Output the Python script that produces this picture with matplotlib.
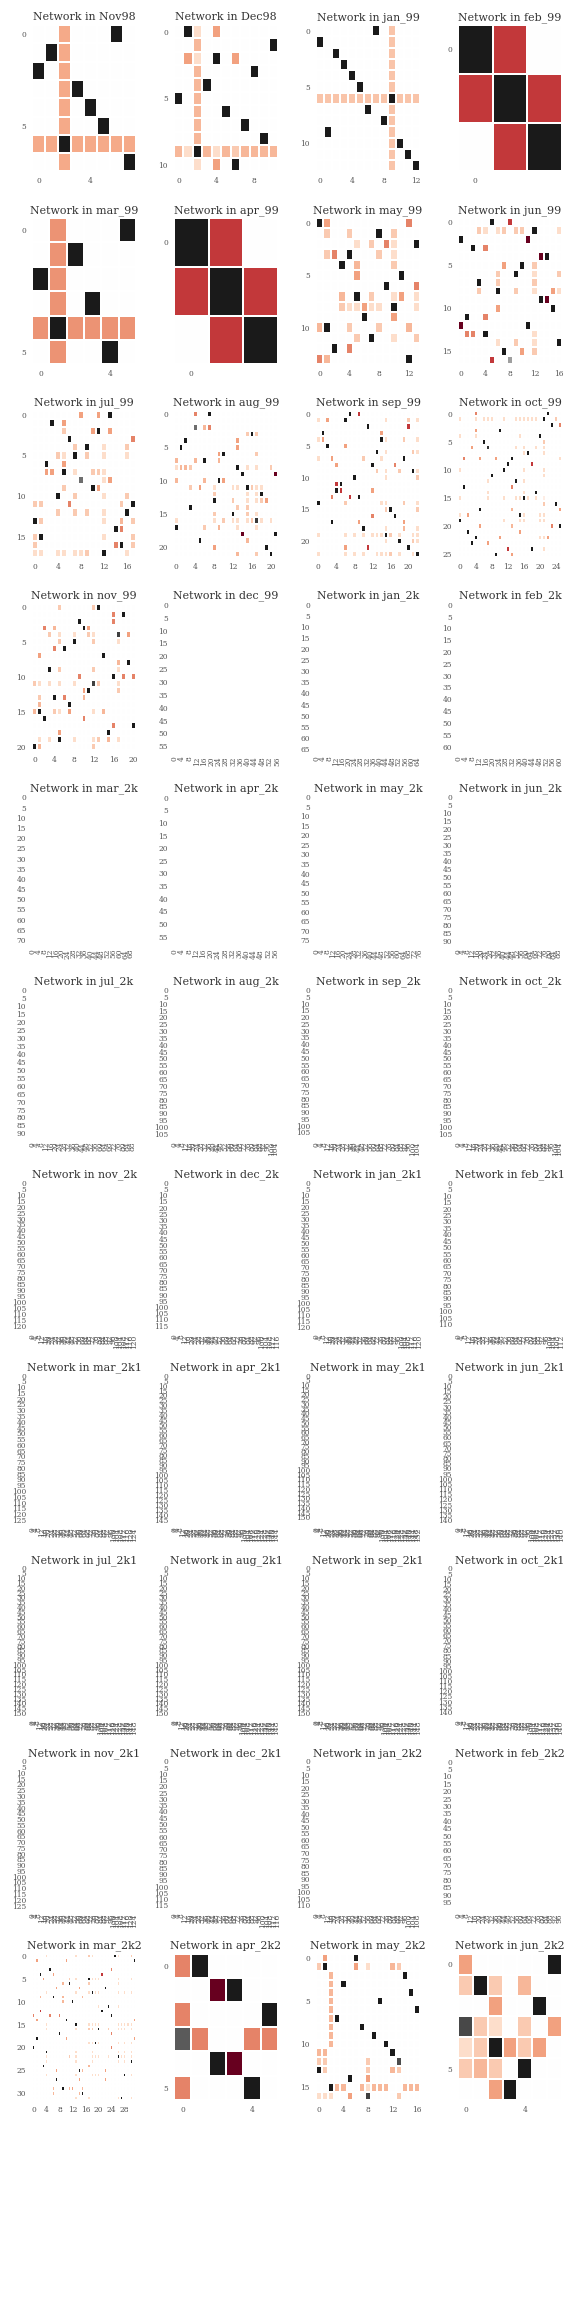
import numpy as np
import matplotlib
matplotlib.use('Agg')
import matplotlib.pyplot as plt

# cell levels seen in the picture
K = 1.0
M = -1.0
R = -0.707
S = -0.5
A = -0.41
P = -0.33
Q = -0.26
L = -0.18
N = -0.378
J = -0.289
H = -0.447

# every row is a list of (column, value)
nov98 = [
    [(2, N), (6, K)], [(1, K), (2, N)], [(0, K), (2, N)], [(2, N), (3, K)],
    [(2, N), (4, K)], [(2, N), (5, K)],
    [(0, N), (1, N), (2, K), (3, N), (4, N), (5, N), (6, N), (7, N)],
    [(2, N), (7, K)],
]
dec98 = [
    [(1, K), (2, L), (4, A)], [(2, P), (10, K)], [(1, A), (2, L), (4, K), (6, A)],
    [(2, P), (8, K)], [(2, P), (3, K)], [(0, K), (2, P)], [(2, P), (5, K)],
    [(2, P), (7, K)], [(2, P), (9, K)],
    [(0, P), (1, L), (2, K), (3, P), (4, L), (5, P), (6, Q), (7, P), (8, P), (9, P), (10, P)],
    [(2, L), (4, A), (6, K)],
]
jan_99 = [
    [(7, K), (9, J)], [(0, K), (9, J)], [(2, K), (9, J)], [(3, K), (9, J)],
    [(4, K), (9, J)], [(5, K), (9, J)],
    [(0, J), (1, J), (2, J), (3, J), (4, J), (5, J), (6, J), (7, J), (8, J), (9, K), (10, J), (11, J), (12, J)],
    [(6, K), (9, J)], [(8, K), (9, J)], [(1, K), (9, J)], [(9, J), (10, K)],
    [(9, J), (11, K)], [(9, J), (12, K)],
]
feb_99 = [[(0, K), (1, R)], [(0, R), (1, K), (2, R)], [(1, R), (2, K)]]
mar_99 = [
    [(1, H), (5, K)], [(1, H), (2, K)], [(0, K), (1, H)], [(1, H), (3, K)],
    [(0, H), (1, K), (2, H), (3, H), (4, H), (5, H)], [(1, H), (4, K)],
]
apr_99 = [[(0, K), (1, R)], [(0, R), (1, K), (2, R)], [(1, R), (2, K)]]
may_99 = [
    [(0, K), (1, A), (12, S)],
    [(1, Q), (4, Q), (8, K), (10, Q)],
    [(5, L), (7, Q), (9, S), (10, L), (13, K)],
    [(1, Q), (2, S), (4, K), (8, Q), (10, L)],
    [(3, K), (5, P), (10, Q)],
    [(5, A), (11, K)],
    [(9, K), (13, S)],
    [(3, P), (5, K), (7, Q), (10, L), (11, A), (13, L)],
    [(3, Q), (4, L), (5, L), (6, A), (7, L), (8, L), (10, K), (13, L)],
    [(6, K), (10, A)],
    [(0, P), (1, K), (4, Q), (8, Q), (12, P)],
    [(5, Q), (7, K), (10, L), (13, Q)],
    [(2, K), (4, S)],
    [(0, S), (1, P), (12, K)],
]
jun_99 = [
    [(5, K), (8, R)],
    [(3, Q), (4, L), (6, L), (7, Q), (9, Q), (10, Q), (12, K), (16, L)],
    [(0, K), (11, M)],
    [(2, K), (4, S)],
    [(13, M), (14, K)],
    [(7, A), (10, K), (12, Q)],
    [(6, Q), (9, K), (12, L), (16, Q)],
    [(3, K), (6, Q), (12, Q)],
    [(3, Q), (6, K), (9, Q), (12, L), (15, A), (16, L)],
    [(13, K), (14, M)],
    [(6, A), (15, K)],
    [(1, K), (4, S)],
    [(0, M), (11, K)],
    [(1, S), (2, S), (4, K), (12, L)],
    [(6, L), (9, Q), (12, L), (16, K)],
    [(7, K), (10, A), (12, Q)],
    [(5, R), (8, 0.5)],
]
jul_99 = [
    [(8, A), (11, A), (13, K)],
    [(3, K), (5, A)],
    [(5, Q), (10, A), (11, K), (13, A)],
    [(6, K), (17, S)],
    [(7, Q), (9, K), (12, L), (16, Q)],
    [(4, Q), (5, L), (7, K), (9, Q), (12, L), (16, L)],
    [(2, K), (5, A)],
    [(2, A), (3, A), (5, K), (7, L), (10, Q), (11, Q), (12, L)],
    [(8, 0.68), (12, L), (13, A)],
    [(5, Q), (10, K), (11, A)],
    [(4, K), (7, Q), (12, L), (16, Q)],
    [(0, Q), (1, Q), (6, S), (15, Q), (17, K)],
    [(4, Q), (7, Q), (9, Q), (12, L), (16, K)],
    [(0, K), (1, Q), (12, L), (15, P), (17, Q)],
    [(14, K), (15, S)],
    [(0, Q), (1, K), (12, L), (17, Q)],
    [(0, Q), (14, S), (15, K), (17, Q)],
    [(0, L), (1, L), (4, L), (5, L), (7, L), (8, L), (9, Q), (12, K), (16, L)],
]
aug_99 = [
    [(4, S), (7, K)],
    [],
    [(4, 0.68), (6, P), (7, S)],
    [(15, Q), (16, K), (17, Q)],
    [(2, K), (13, A)],
    [(1, K), (13, A)],
    [(9, A), (10, K), (17, Q)],
    [(0, P), (4, P), (6, K), (9, P)],
    [(0, L), (1, P), (2, P), (3, Q), (13, K), (15, L), (17, L), (20, Q)],
    [(14, K), (21, M)],
    [(0, P), (6, P), (9, K), (10, A)],
    [(3, Q), (5, A), (8, L), (12, L), (13, L), (15, K), (16, Q), (17, L), (18, L)],
    [(8, Q), (15, L), (17, L), (18, K)],
    [(8, K), (12, Q), (15, L), (17, L), (18, Q), (19, A)],
    [(3, K), (13, Q), (15, Q)],
    [(8, Q), (12, K), (15, Q), (17, L)],
    [(0, L), (8, L), (10, Q), (12, L), (13, L), (15, L), (16, Q), (17, 0.88), (18, L), (20, L)],
    [(0, K), (6, Q), (9, P), (13, L), (17, L)],
    [(14, M), (21, K)],
    [(5, K), (15, P)],
    [(8, A), (19, K)],
    [(13, P), (17, Q), (20, K)],
]
sep_99 = [
    [(7, K), (9, R)],
    [(0, L), (2, A), (6, K), (15, L), (20, Q), (22, L)],
    [(11, K), (20, R)],
    [(1, K), (14, A)],
    [(0, L), (1, A), (14, K), (15, L), (19, Q), (22, L)],
    [(2, K), (6, A)],
    [(13, K), (15, L), (21, Q), (22, L)],
    [(0, L), (3, A), (10, Q), (14, L), (19, K)],
    [(4, A), (12, K), (17, S)],
    [(13, Q), (15, L), (18, Q), (21, K), (22, L)],
    [(8, K), (15, L), (22, Q)],
    [(4, R), (5, K)],
    [(4, K), (5, R), (12, A)],
    [(3, S), (7, R), (9, K)],
    [(0, K), (6, Q), (14, L), (15, L), (19, Q), (22, L)],
    [(15, Q), (16, K), (22, Q)],
    [(12, S), (17, K)],
    [(3, K), (9, A), (19, A)],
    [(10, K), (15, L), (19, P), (22, L)],
    [(0, L), (6, L), (8, L), (10, L), (12, L), (13, L), (14, L), (15, K), (16, Q), (18, L), (21, L), (22, L)],
    [(15, L), (18, K), (21, Q), (22, L)],
    [(6, A), (11, R), (20, K)],
    [(0, L), (6, L), (8, L), (10, L), (13, L), (14, L), (15, L), (16, Q), (18, L), (21, L), (22, K)],
]
oct_99 = [
    [(4, S), (22, K)],
    [(0, L), (4, L), (6, L), (7, L), (8, L), (11, L), (14, L), (15, L), (16, L), (17, L), (18, L), (19, L), (21, K), (24, Q)],
    [(23, K), (25, S)],
    [(4, A), (10, K)],
    [(0, L), (4, L), (15, L), (20, K)],
    [(6, K), (21, Q)],
    [(3, A), (7, 0.88), (14, L), (16, L), (19, L), (21, L)],
    [(16, L), (17, K), (21, L)],
    [(1, S), (5, A), (9, A), (13, K), (25, L)],
    [(12, K), (18, R)],
    [(0, L), (11, K), (16, L), (21, L)],
    [(8, K), (21, L)],
    [(7, L), (14, K), (16, L)],
    [(1, K), (13, S)],
    [(7, L), (16, L), (19, K)],
    [(0, L), (7, L), (11, L), (14, L), (15, L), (16, K), (17, L), (19, L), (21, -0.1)],
    [(21, Q), (24, K)],
    [(5, K), (13, P), (25, A)],
    [(0, L), (2, A), (15, K), (16, L), (20, L), (21, L)],
    [(0, K), (11, L), (15, L), (16, L), (20, L), (21, L)],
    [(5, A), (13, P), (23, S), (25, K)],
    [(2, K), (15, A)],
    [(4, K), (10, A), (20, L), (21, L), (22, A)],
    [(3, K), (7, A)],
    [(12, R), (18, K), (21, L)],
    [(9, K), (13, A)],
]
nov_99 = [
    [(5, Q), (12, Q), (13, K)],
    [(16, S), (18, K)],
    [(9, K), (16, S)],
    [(2, S), (4, P), (10, K), (11, A)],
    [(3, Q), (5, L), (8, L), (11, Q), (12, L), (17, 0.85), (19, A)],
    [(5, Q), (8, K), (12, Q), (17, L)],
    [(4, S), (6, K)],
    [(1, A), (14, K)],
    [(17, P), (19, K)],
    [(3, K), (5, Q), (12, Q), (17, L)],
    [(9, S), (16, K), (18, S), (20, S)],
    [(0, Q), (1, L), (3, L), (5, L), (8, L), (12, 0.85), (13, Q), (17, L)],
    [(10, A), (11, K), (17, Q)],
    [(1, Q), (4, K), (6, S), (10, P)],
    [(1, P), (7, K)],
    [(0, P), (1, K), (4, Q), (5, L), (7, A), (12, L), (14, P)],
    [(2, K), (10, S)],
    [(16, S), (20, K)],
    [(5, A), (15, K)],
    [(1, L), (3, L), (5, K), (8, L), (12, L), (13, Q), (15, P), (17, L)],
    [(0, K), (1, P), (12, Q)],
]
mar_2k2 = [
    [(4, L), (13, L), (17, Q), (18, L), (25, K), (26, L), (30, Q)],
    [(1, A), (10, A), (31, K)],
    [],
    [(5, K), (24, S)],
    [(2, K), (6, A), (21, R)],
    [(3, A), (11, Q), (13, L), (17, K), (18, L), (19, L), (20, L), (26, L), (30, L)],
    [(9, P), (11, K), (17, Q), (26, L)],
    [(7, A), (14, A), (22, K)],
    [(4, L), (13, L), (17, L), (18, K), (19, L), (20, L), (26, L), (28, L), (30, L)],
    [(2, P), (6, K), (9, P), (15, P)],
    [(9, P), (12, K)],
    [(20, L), (23, K), (26, L)],
    [(2, R), (21, K)],
    [(0, S), (5, S), (8, S), (24, K)],
    [(1, A), (10, K), (31, A)],
    [(4, L), (13, K), (17, L), (18, L), (19, L), (20, L), (26, L), (27, L), (28, L), (29, L), (30, L)],
    [(4, L), (13, L), (17, Q), (18, Q), (20, K), (23, Q), (26, L), (27, L), (28, L), (30, L)],
    [(8, K), (24, S)],
    [(1, K), (10, A), (31, A)],
    [(17, L), (18, L), (19, K), (20, L), (26, L), (28, L), (30, L)],
    [(0, K), (24, S)],
    [(4, K), (13, L), (18, L), (26, L), (28, L), (30, L)],
    [(4, L), (11, Q), (13, L), (18, L), (19, L), (20, L), (23, L), (26, K), (27, L), (28, L), (30, L)],
    [(4, L), (13, L), (18, L), (26, L), (28, L), (30, K)],
    [(3, K), (17, P)],
    [(7, A), (14, K), (15, P), (22, A)],
    [(4, L), (13, L), (18, L), (19, L), (20, L), (28, K), (30, L)],
    [(7, K), (14, A), (22, A)],
    [],
    [(6, P), (9, K), (11, P), (12, A), (15, P)],
    [(6, P), (14, P), (15, K)],
    [(13, L), (17, L), (26, L), (27, K), (30, L)],
]
apr_2k2 = [
    [(0, S), (1, K)],
    [(2, M), (3, K)],
    [(0, S), (5, K)],
    [(0, 0.75), (1, S), (4, S), (5, S)],
    [(2, K), (3, M)],
    [(0, S), (4, K)],
]
may_2k2 = [
    [(1, A), (6, K)],
    [(0, Q), (1, K), (6, A), (8, L), (12, P), (13, Q)],
    [(2, P), (14, K)],
    [(2, P), (4, K)],
    [(2, P), (15, K)],
    [(2, P), (10, K)],
    [(2, P), (16, K)],
    [(2, P), (3, K)],
    [(2, P), (7, K)],
    [(2, P), (9, K)],
    [(2, P), (11, K)],
    [(0, P), (1, P), (12, K)],
    [(0, Q), (1, Q), (8, Q), (13, 0.8)],
    [(0, K), (1, Q), (8, Q), (12, P), (13, Q)],
    [(5, K), (8, A)],
    [(2, K), (3, P), (4, P), (7, P), (8, L), (9, P), (10, P), (11, P), (14, P), (15, P), (16, P)],
    [(0, L), (1, L), (2, L), (5, A), (8, 0.85), (13, Q)],
]
jun_2k2 = [
    [(0, A), (6, K)],
    [(0, Q), (1, K), (2, Q), (4, P)],
    [(2, A), (5, K)],
    [(0, 0.82), (1, Q), (2, L), (4, Q), (6, A)],
    [(0, L), (1, Q), (2, K), (3, A), (4, Q), (5, A)],
    [(0, Q), (1, P), (2, Q), (4, K)],
    [(2, A), (3, K)],
]

# months with nothing visible in the cells, only their node counts
dec_99_size = 57
jan_2k_size = 66
feb_2k_size = 62
mar_2k_size = 72
apr_2k_size = 58
may_2k_size = 77
jun_2k_size = 92
jul_2k_size = 92
aug_2k_size = 107
sep_2k_size = 108
oct_2k_size = 107
nov_2k_size = 123
dec_2k_size = 118
jan_2k1_size = 122
feb_2k1_size = 114
mar_2k1_size = 127
apr_2k1_size = 147
may_2k1_size = 155
jun_2k1_size = 142
jul_2k1_size = 152
aug_2k1_size = 152
sep_2k1_size = 152
oct_2k1_size = 143
nov_2k1_size = 127
dec_2k1_size = 117
jan_2k2_size = 112
feb_2k2_size = 99

months = ['Nov98', 'Dec98', 'jan_99', 'feb_99', 'mar_99', 'apr_99', 'may_99', 'jun_99',
          'jul_99', 'aug_99', 'sep_99', 'oct_99', 'nov_99', 'dec_99', 'jan_2k', 'feb_2k',
          'mar_2k', 'apr_2k', 'may_2k', 'jun_2k', 'jul_2k', 'aug_2k', 'sep_2k', 'oct_2k',
          'nov_2k', 'dec_2k', 'jan_2k1', 'feb_2k1', 'mar_2k1', 'apr_2k1', 'may_2k1', 'jun_2k1',
          'jul_2k1', 'aug_2k1', 'sep_2k1', 'oct_2k1', 'nov_2k1', 'dec_2k1', 'jan_2k2', 'feb_2k2',
          'mar_2k2', 'apr_2k2', 'may_2k2', 'jun_2k2']
networks = [nov98, dec98, jan_99, feb_99, mar_99, apr_99, may_99, jun_99,
            jul_99, aug_99, sep_99, oct_99, nov_99, dec_99_size, jan_2k_size, feb_2k_size,
            mar_2k_size, apr_2k_size, may_2k_size, jun_2k_size, jul_2k_size, aug_2k_size, sep_2k_size, oct_2k_size,
            nov_2k_size, dec_2k_size, jan_2k1_size, feb_2k1_size, mar_2k1_size, apr_2k1_size, may_2k1_size, jun_2k1_size,
            jul_2k1_size, aug_2k1_size, sep_2k1_size, oct_2k1_size, nov_2k1_size, dec_2k1_size, jan_2k2_size, feb_2k2_size,
            mar_2k2, apr_2k2, may_2k2, jun_2k2]


def to_matrix(net):
    if isinstance(net, int):
        return np.zeros((net, net))
    matrix = np.zeros((len(net), len(net)))
    for i, row in enumerate(net):
        for col, value in row:
            matrix[i, col] = value
    return matrix


plt.rcParams['font.family'] = 'DejaVu Serif'
fig = plt.figure(figsize=(8, 32), dpi=72)
grid = fig.add_gridspec(12, 4, left=32 / 576, right=562 / 576, top=1 - 25 / 2304, bottom=1 - 2293 / 2304,
                        wspace=38 / 104, hspace=46.4 / 146.5)

for k in range(len(months)):
    ax = fig.add_subplot(grid[k // 4, k % 4])
    matrix = to_matrix(networks[k])
    n = matrix.shape[0]
    ax.pcolormesh(np.arange(n + 1), np.arange(n + 1), matrix, cmap='RdGy', vmin=-1, vmax=1,
                  edgecolors='white', linewidth=1.5)
    ax.invert_yaxis()
    ax.set_title('Network in ' + months[k], fontsize=11, color='#333333', pad=5)
    xt = np.arange(0, n, 4)
    yt = np.arange(0, n, 5)
    ax.set_xticks(xt + 0.5)
    ax.set_xticklabels(xt, rotation=90 if n > 40 else 0)
    ax.set_yticks(yt + 0.5)
    ax.set_yticklabels(yt)
    ax.tick_params(length=0, pad=6, labelsize=7.5, labelcolor='#555555')
    for side in ax.spines.values():
        side.set_visible(False)

fig.savefig('out.png', dpi=72)
